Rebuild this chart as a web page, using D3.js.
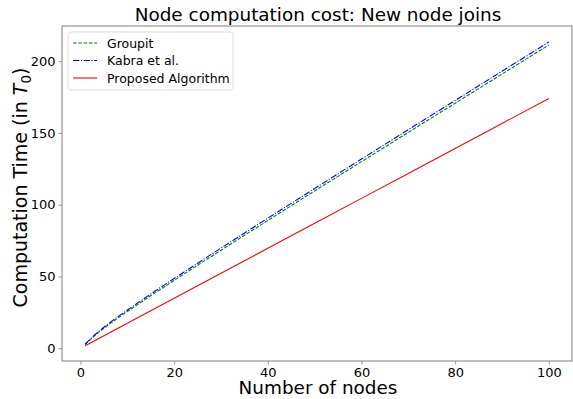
<!DOCTYPE html>
<meta charset="utf-8">
<style>
  body { margin: 0; background: #fff; }
  text { font-family: "DejaVu Sans", sans-serif; }
</style>
<svg width="573" height="399"></svg>
<script src="https://d3js.org/d3.v7.min.js"></script>
<script>

// data
var nodes = [1, 2, 3, 4, 5, 6, 8, 10, 15, 20, 30, 40, 50, 60, 70, 80, 90, 100];
var groupit = [2.5, 5.7, 8.7, 11.4, 13.9, 16.4, 21.1, 25.6, 36.6, 47.3, 68.3, 89.0, 109.6, 130.0, 150.4, 170.7, 191.0, 211.3];
var kabra = [3.0, 6.0, 9.2, 12.0, 14.6, 17.2, 22.0, 26.6, 37.8, 48.6, 69.8, 90.6, 111.3, 131.8, 152.3, 172.6, 193.0, 213.3];
var proposed = [1.7, 3.5, 5.2, 7.0, 8.7, 10.4, 13.9, 17.4, 26.1, 34.8, 52.2, 69.6, 87.0, 104.4, 121.8, 139.2, 156.6, 174.0];

var seriesNames = ["Groupit", "Kabra et al.", "Proposed Algorithm"];
var seriesColors = ["green", "blue", "red"];
var seriesDash = ["3.7,1.6", "6.4,1.6,1,1.6", null];
var xTicks = [0, 20, 40, 60, 80, 100];
var yTicks = [0, 50, 100, 150, 200];

var svg = d3.select("svg");
var plotL = 62, plotR = 572, plotT = 26, plotB = 361;
var spineColor = "#808080";

var x = d3.scaleLinear().domain([-3.95, 104.95]).range([plotL, plotR]);
var y = d3.scaleLinear().domain([-8.9, 224.5]).range([plotB, plotT]);

// axes
var xAxis = svg.append("g")
    .attr("transform", "translate(0," + plotB + ")")
    .call(d3.axisBottom(x).tickValues(xTicks).tickSize(3.5).tickPadding(3));
var yAxis = svg.append("g")
    .attr("transform", "translate(" + plotL + ",0)")
    .call(d3.axisLeft(y).tickValues(yTicks).tickSize(3.5).tickPadding(3));

[xAxis, yAxis].forEach(function(a) {
  a.select(".domain").remove();
  a.selectAll("line").attr("stroke", spineColor).attr("stroke-width", 0.8);
  a.selectAll("text")
      .attr("fill", "#000")
      .style("font-family", "DejaVu Sans")
      .style("font-size", "13px");
});

// spines
svg.append("rect")
    .attr("x", plotL).attr("y", plotT)
    .attr("width", plotR - plotL).attr("height", plotB - plotT)
    .attr("fill", "none")
    .attr("stroke", spineColor)
    .attr("stroke-width", 1);

// lines
var allSeries = [groupit, kabra, proposed];
var line = d3.line()
    .x(function(d, i) { return x(nodes[i]); })
    .y(function(d) { return y(d); });

allSeries.forEach(function(s, k) {
  svg.append("path")
      .datum(s)
      .attr("d", line)
      .attr("fill", "none")
      .attr("stroke", seriesColors[k])
      .attr("stroke-width", 1.1)
      .attr("stroke-dasharray", seriesDash[k]);
});

// title
svg.append("text")
    .attr("x", (plotL + plotR) / 2 + 1)
    .attr("y", 21)
    .attr("text-anchor", "middle")
    .style("font-size", "18.4px")
    .text("Node computation cost: New node joins");

// x label
svg.append("text")
    .attr("x", (plotL + plotR) / 2 + 1)
    .attr("y", 394)
    .attr("text-anchor", "middle")
    .style("font-size", "18.4px")
    .text("Number of nodes");

// y label with italic T and subscript 0
var yl = svg.append("text")
    .attr("transform", "translate(27," + ((plotT + plotB) / 2 - 6) + ") rotate(-90)")
    .attr("text-anchor", "middle")
    .style("font-size", "19px");
yl.append("tspan").text("Computation Time (in ");
yl.append("tspan").style("font-style", "italic").text("T");
yl.append("tspan").attr("dy", 4).style("font-size", "13.5px").text("0");
yl.append("tspan").attr("dy", -4).text(")");

// legend
var legend = svg.append("g");
legend.append("rect")
    .attr("x", 68).attr("y", 32)
    .attr("width", 165).attr("height", 58)
    .attr("rx", 3)
    .attr("fill", "#fff")
    .attr("fill-opacity", 0.8)
    .attr("stroke", "#ddd");

seriesNames.forEach(function(name, k) {
  var ly = 43 + k * 17.5;
  legend.append("line")
      .attr("x1", 73).attr("x2", 97)
      .attr("y1", ly).attr("y2", ly)
      .attr("stroke", seriesColors[k])
      .attr("stroke-width", 1.1)
      .attr("stroke-dasharray", seriesDash[k]);
  legend.append("text")
      .attr("x", 107).attr("y", ly + 4.5)
      .style("font-size", "12.5px")
      .text(name);
});

</script>
